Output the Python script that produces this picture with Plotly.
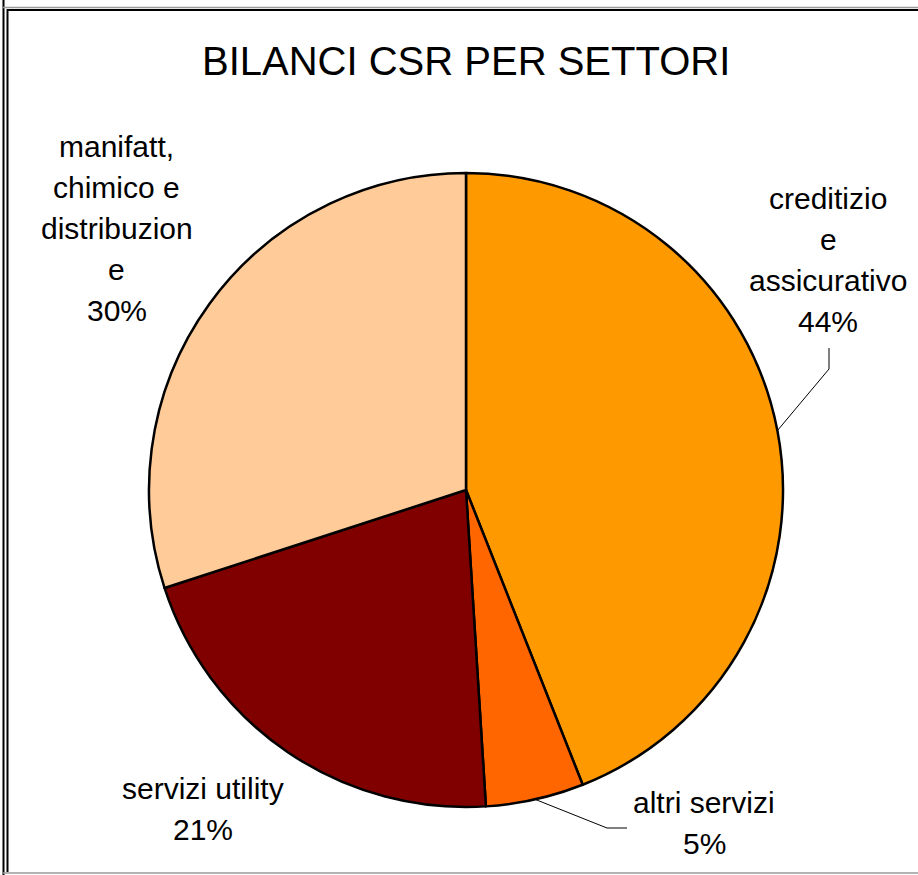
import math
import plotly.graph_objects as go

# Sector shares of CSR reports (%)
sectors = ["creditizio e assicurativo", "altri servizi", "servizi utility",
           "manifatt, chimico e distribuzione"]
shares = [44, 5, 21, 30]
colors = ["#FF9900", "#FF6600", "#800000", "#FFCC99"]
# label lines as laid out on the chart
label_lines = [
    ["creditizio", "e", "assicurativo"],
    ["altri servizi"],
    ["servizi utility"],
    ["manifatt,", "chimico e", "distribuzion", "e"],
]

W, H = 918, 875
CX, CY, R = 466, 490, 317

# label block placement (pixel centre x, first baseline y)
label_pos = [(828, 209), (704, 813), (203, 799), (117, 157)]
LINE_H = 41
FS = 30


def px(x):
    return x / W


def py(y):
    return 1 - y / H


fig = go.Figure(go.Pie(
    labels=sectors,
    values=shares,
    sort=False,
    direction="clockwise",
    rotation=0,
    marker=dict(colors=colors, line=dict(color="black", width=2.5)),
    textinfo="none",
    hoverinfo="label+percent",
    showlegend=False,
    domain=dict(x=[px(CX - R), px(CX + R)], y=[py(CY + R), py(CY - R)]),
))

font = dict(family="Liberation Sans, Arial, sans-serif", size=FS, color="black")
annotations = []
total = sum(shares)
for lines, v, (lx, ly) in zip(label_lines, shares, label_pos):
    rows = lines + [f"{round(v / total * 100)}%"]
    for i, row in enumerate(rows):
        base = ly + i * LINE_H
        annotations.append(dict(
            x=px(lx), y=py(base - 0.35 * FS), xref="paper", yref="paper",
            text=row, showarrow=False, xanchor="center", yanchor="middle",
            font=font,
        ))

annotations.append(dict(
    x=px(466), y=py(61), xref="paper", yref="paper",
    text="BILANCI CSR PER SETTORI", showarrow=False,
    xanchor="center", yanchor="middle",
    font=dict(family="Liberation Sans, Arial, sans-serif", size=40, color="black"),
))


def slice_mid_point(idx):
    start = sum(shares[:idx]) / total * 360
    end = sum(shares[:idx + 1]) / total * 360
    a = math.radians((start + end) / 2)
    return CX + R * math.sin(a), CY - R * math.cos(a)


shapes = []
# leader for the first slice: elbow below its label
ex, ey = slice_mid_point(0)
shapes.append(dict(type="path", xref="paper", yref="paper",
                   path=f"M {px(ex)},{py(ey)} L {px(829)},{py(369)} L {px(829)},{py(348)}",
                   line=dict(color="black", width=1)))
# leader for the second slice: elbow left of its label
ex, ey = slice_mid_point(1)
shapes.append(dict(type="path", xref="paper", yref="paper",
                   path=f"M {px(ex)},{py(ey)} L {px(607)},{py(828)} L {px(627)},{py(828)}",
                   line=dict(color="black", width=1)))

# chart frame
frame = [
    (3.5, 0, 3.5, 875, "black", 2),
    (7.5, 9, 7.5, 872, "black", 2),
    (3, 7.5, 918, 7.5, "#9a9a9a", 1.5),
    (7, 10, 918, 10, "black", 2),
    (3, 873, 918, 873, "#9a9a9a", 1.5),
]
for x0, y0, x1, y1, c, w in frame:
    shapes.append(dict(type="line", xref="paper", yref="paper",
                       x0=px(x0), y0=py(y0), x1=px(x1), y1=py(y1),
                       line=dict(color=c, width=w)))

fig.update_layout(
    width=W, height=H,
    margin=dict(l=0, r=0, t=0, b=0),
    paper_bgcolor="white", plot_bgcolor="white",
    annotations=annotations, shapes=shapes,
)

fig.write_html("out.html")
